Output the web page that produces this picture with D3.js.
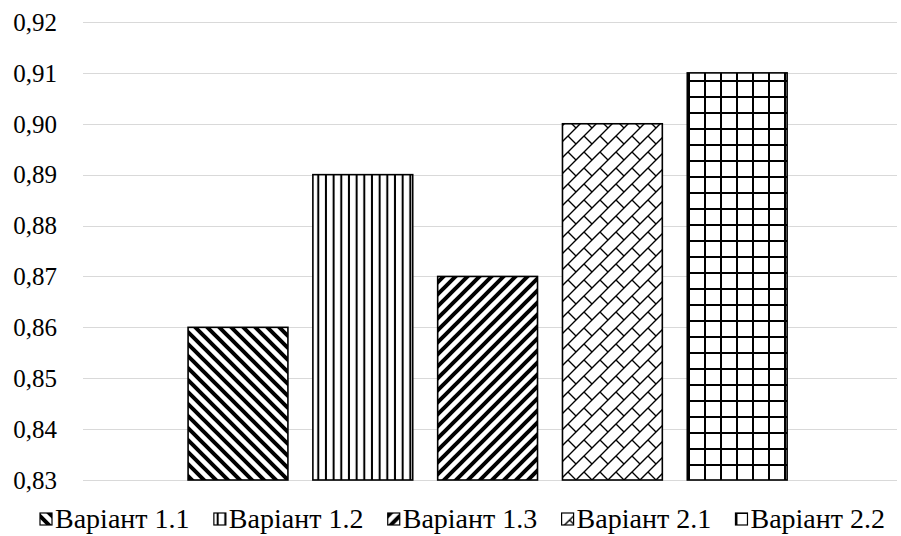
<!DOCTYPE html>
<html><head><meta charset="utf-8">
<script src="https://cdn.jsdelivr.net/npm/d3@7"></script>
<style>
svg text { font-family: "Times New Roman", "Liberation Serif", Tinos, serif !important; }
</style>
</head><body style="margin:0">
<svg id="c" width="901" height="536" font-family="Times New Roman" style="display:block;background:#fff"></svg>
<script>
const series = ["Варіант 1.1","Варіант 1.2","Варіант 1.3","Варіант 2.1","Варіант 2.2"];
const values = [0.86, 0.89, 0.87, 0.90, 0.91];
const patternIds = ["pDn","pVert","pUp","pShingle","pGrid"];
const yTicks = [0.83,0.84,0.85,0.86,0.87,0.88,0.89,0.90,0.91,0.92];
const AXIS_FS = 25, LEG_FS = 28;

const svg = d3.select("#c");
const defs = svg.append("defs");
function pat(id, w, h, build){
  const p = defs.append("pattern").attr("id", id).attr("patternUnits","userSpaceOnUse")
    .attr("width", w).attr("height", h);
  p.append("rect").attr("width", w).attr("height", h).attr("fill","#fff");
  build(p);
}
pat("pDn", 12, 12, p => p.append("path").attr("d","M-3,-3L15,15M-3,9L3,15M9,-3L15,3").attr("stroke","#000").attr("stroke-width",4));
pat("pUp", 12, 12, p => p.append("path").attr("d","M-3,15L15,-3M-3,3L3,-3M9,15L15,9").attr("stroke","#000").attr("stroke-width",4));
pat("pVert", 7.67, 10, p => p.append("rect").attr("x",2.8).attr("y",0).attr("width",2).attr("height",10).attr("fill","#000"));
pat("pGrid", 16, 16, p => { p.append("rect").attr("x",0).attr("y",0).attr("width",2).attr("height",16).attr("fill","#000");
                            p.append("rect").attr("x",0).attr("y",0).attr("width",16).attr("height",2).attr("fill","#000"); });
pat("pShingle", 16, 16, p => p.append("path").attr("d","M-2,18L18,-2M-2,2L2,-2M14,18L18,14M8,8L16,16").attr("stroke","#000").attr("stroke-width",1.4).attr("fill","none"));

const plotL = 83, plotR = 897;
const y = d3.scaleLinear().domain([0.83, 0.92]).range([480, 22]);
const x = d3.scaleBand().domain(series).range([175.6, 799.6]).paddingInner(0.2).paddingOuter(0.1);

svg.append("g").selectAll("line").data(yTicks).join("line")
  .attr("x1", plotL).attr("x2", plotR)
  .attr("y1", d => Math.round(y(d)) + 0.5).attr("y2", d => Math.round(y(d)) + 0.5)
  .attr("stroke", "#d9d9d9").attr("stroke-width", 1);

svg.append("g").selectAll("text").data(yTicks).join("text")
  .attr("x", 57).attr("y", d => y(d)).attr("dy", "0.35em")
  .attr("text-anchor", "end").attr("font-size", AXIS_FS).attr("fill", "#000")
  .text(d => d3.format(".2f")(d).replace(".", ","));

svg.append("g").selectAll("rect").data(series).join("rect")
  .attr("x", d => x(d)).attr("width", x.bandwidth())
  .attr("y", (d,i) => y(values[i])).attr("height", (d,i) => y(0.83) - y(values[i]))
  .attr("fill", (d,i) => `url(#${patternIds[i]})`)
  .attr("stroke", "#000").attr("stroke-width", 1.6);

// legend (text measured with a canvas context)
const ctx = document.createElement("canvas").getContext("2d");
ctx.font = `${LEG_FS}px "Times New Roman", "Liberation Serif", serif`;
const SW = 12, TX = 15;
const widths = series.map(s => TX + ctx.measureText(s).width);
const start = 40, end = 885;
const gap = (end - start - d3.sum(widths)) / (series.length - 1);
const offs = widths.map((w,i) => start + d3.sum(widths.slice(0,i)) + gap*i);
const lg = svg.append("g").selectAll("g").data(series).join("g")
  .attr("transform", (d,i) => `translate(${offs[i]},528)`);
lg.append("rect").attr("x", 0).attr("y", -SW - 3).attr("width", SW).attr("height", SW)
  .attr("fill", (d,i) => `url(#${patternIds[i]})`).attr("stroke", "#000").attr("stroke-width", 1.2);
lg.append("text").attr("x", TX).attr("y", 0).attr("font-size", LEG_FS)
  .attr("fill", "#000").text(d => d);
</script>
</body></html>
